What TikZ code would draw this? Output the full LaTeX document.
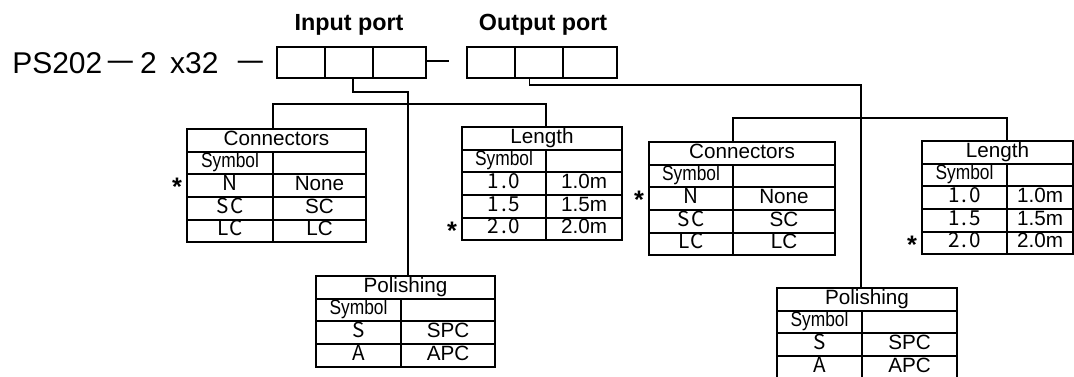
\documentclass[tikz,border=0pt]{standalone}
\usepackage{fontspec}
\setmainfont{Liberation Sans}
\newfontfamily\gothic{Noto Sans CJK JP}[LetterSpace=10]
\newfontfamily\gothicdash{Noto Sans CJK JP}
\usetikzlibrary{positioning}

% one option table: name, top left corner, left width, right width, title, rows, starred row
\newcommand{\opttable}[7]{%
  \node[headcell, minimum width=(#3+#4)*0.75pt, anchor=north west] (#1) at (#2) {#5};
  \node[cell, minimum width=#3*0.75pt, anchor=north west] (#1-s) at (#1.south west)
    {\scalebox{0.84}[1]{Symbol}};
  \node[cell, minimum width=#4*0.75pt, anchor=north west] (#1-s-r) at (#1-s.north east) {};
  \xdef\prevrow{#1-s}
  \foreach \val/\txt [count=\i] in {#6} {
    \node[cell, valfont, minimum width=#3*0.75pt, anchor=north west] (#1-\i) at (\prevrow.south west) {\val};
    \node[cell, minimum width=#4*0.75pt, anchor=north west] (#1-\i-r) at (#1-\i.north east) {\txt};
    \xdef\prevrow{#1-\i}
  }
  \if\relax\detokenize{#7}\relax\else
    \node[defstar, left=3.5pt of #1-#7] (#1-star) {*};
  \fi
}

\begin{document}
\begin{tikzpicture}[
    x=0.75pt, y=-0.75pt,
    node distance=0pt,
    portbox/.style={draw, line width=1.3pt, minimum width=48*0.75pt,
      minimum height=31*0.75pt, inner sep=0pt, outer sep=0pt},
    portlabel/.style={font=\fontsize{17.5pt}{20pt}\selectfont\bfseries, inner sep=0pt},
    cell/.style={draw, line width=1.3pt, minimum height=17pt, inner sep=0pt,
      outer sep=0pt, text height=0.72em, text depth=0pt,
      font=\fontsize{15.5pt}{18pt}\selectfont},
    headcell/.style={cell},
    valfont/.style={font=\fontsize{15.5pt}{18pt}\selectfont\gothic},
    defstar/.style={font=\fontsize{19pt}{20pt}\selectfont\bfseries, inner sep=0pt,
      yshift=-1pt},
    wire/.style={line width=1.2pt}
  ]
  \useasboundingbox (0,0) rectangle (1074,376);

  % ---- model code ----
  \node[anchor=base west, inner sep=0pt, font=\fontsize{22.5pt}{26pt}\selectfont]
    (model) at (12,73) {PS202\kern1pt\scalebox{1.15}[1]{\gothicdash －}\kern1.5pt 2\kern3.7pt{} x32\kern5pt{} \scalebox{1.15}[1]{\gothicdash －}};

  % ---- port boxes ----
  \node[portbox, anchor=north west] (inA) at (277,47) {};
  \node[portbox, right=of inA] (inB) {};
  \node[portbox, right=of inB, minimum width=53*0.75pt] (inC) {};
  \node[portbox, anchor=north west] (outA) at (467,47) {};
  \node[portbox, right=of outA] (outB) {};
  \node[portbox, right=of outB, minimum width=54*0.75pt] (outC) {};
  \node[portlabel, anchor=base] (inlabel) at (inB |- 0,30) {Input port};
  \node[portlabel, anchor=base] (outlabel) at ([xshift=3pt]outB |- 0,30) {Output port};

  \coordinate (linkend) at (449,61);
  \draw[wire] (linkend -| inC.east) -- (linkend);

  % ---- input port tables ----
  \opttable{conA}{187,129}{86}{93}{Connectors}{N/None, SC/SC, LC/LC}{1}
  \opttable{lenA}{462,127}{84}{76}{Length}{1.0/1.0m, 1.5/1.5m, 2.0/2.0m}{3}
  \opttable{polA}{316,276}{85}{94}{Polishing}{S/SPC, A/APC}{}

  % ---- output port tables ----
  \opttable{conB}{649,142}{84}{102}{Connectors}{N/None, SC/SC, LC/LC}{1}
  \opttable{lenB}{922,141}{85}{66}{Length}{1.0/1.0m, 1.5/1.5m, 2.0/2.0m}{3}
  \opttable{polB}{777,288}{85}{95}{Polishing}{S/SPC, A/APC}{}

  % ---- input wiring ----
  \coordinate (inJ) at (408,92);
  \coordinate (busA) at (408,104);
  \draw[wire] ([xshift=3pt]inB.south) |- (inJ) -- (inJ |- polA.north);
  \draw[wire] (conA.north -| conA-s.east) |- (busA) -| (lenA.north -| lenA-s.east);

  % ---- output wiring ----
  \coordinate (outJ) at (861,85);
  \coordinate (busB) at (861,118);
  \draw[wire] ([xshift=-7pt]outB.south) |- (outJ) -- (outJ |- polB.north);
  \draw[wire] (conB.north -| conB-s.east) |- (busB) -| (lenB.north -| lenB-s.east);
\end{tikzpicture}
\end{document}
